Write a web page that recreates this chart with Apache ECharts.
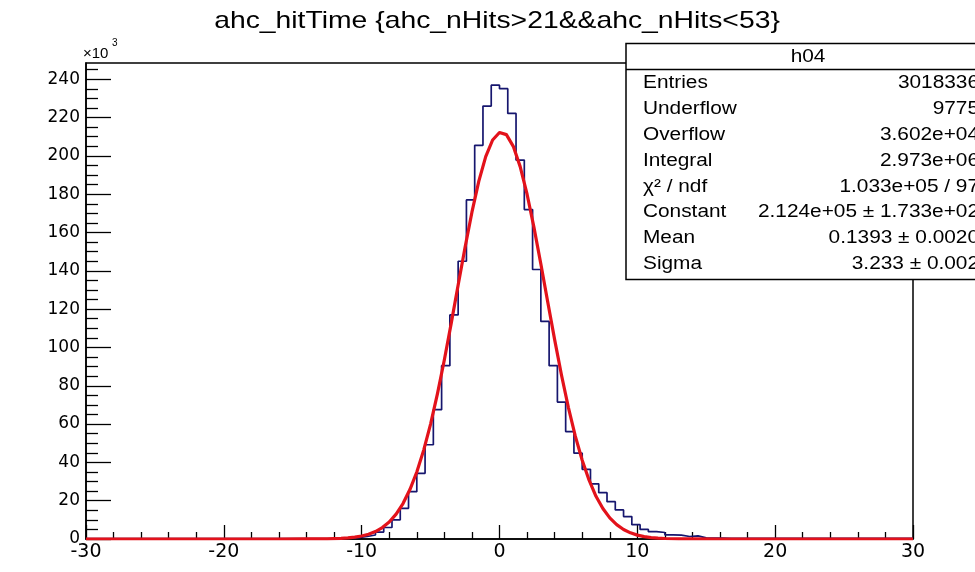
<!DOCTYPE html>
<html>
<head>
<meta charset="utf-8">
<script src="https://cdn.jsdelivr.net/npm/echarts@6.0.0/dist/echarts.min.js"></script>
<style>
html,body{margin:0;padding:0;background:#fff;}
#chart{width:975px;height:572px;}
</style>
</head>
<body>
<div id="chart"></div>
<script>
// ---------- data ----------
const titleText = 'ahc_hitTime {ahc_nHits>21&&ahc_nHits<53}';
const histMin = -30;
const histMax = 30;
const binWidth = 0.6;
// bin contents in units of 10^3, 100 bins from -30 to 30
const histCounts = [
  0.15,0.15,0.15,0.15,0.15,0.15,0.15,0.15,0.15,0.15,
  0.15,0.15,0.15,0.15,0.15,0.15,0.15,0.15,0.15,0.15,
  0.15,0.15,0.16,0.16,0.17,0.17,0.18,0.18,0.19,0.2,
  0.3,0.45,0.75,1.3,2.1,3.6,6.0,10.0,16.0,24.7,
  34.3,49.2,67.5,90.5,117,145,177,205.5,226,236.9,
  235.1,222.2,197.8,172,140.7,113.6,90.5,71.5,56.1,44.8,
  36.4,28.8,24.2,19.5,15.2,11.7,7.5,5.0,3.8,3.4,
  2.2,2.0,1.3,1.6,0.6,0.5,0.45,0.4,0.4,0.35,
  0.35,0.3,0.3,0.3,0.3,0.3,0.3,0.3,0.3,0.3,
  0.3,0.3,0.3,0.3,0.3,0.3,0.3,0.3,0.3,0.3
];
// red fit curve (units of 10^3)
const fitX = [-30,-16,-14,-13,-12.5,-12,-11.5,-11,-10.5,-10,-9.5,-9,-8.5,-8,-7.5,-7,-6.5,-6,-5.5,-5,-4.5,-4,-3.5,-3,-2.5,-2,-1.5,-1,-0.5,0,0.5,1,1.5,2,2.5,3,3.5,4,4.5,5,5.5,6,6.5,7,7.5,8,8.5,9,9.5,10,10.5,11,11.5,12,12.5,13,14,16,30];
const fitY = [0,0,0.015,0.055,0.1,0.18,0.33,0.56,0.95,1.55,2.5,3.9,6.0,8.9,13.0,18.5,25.8,35.0,46.4,60.0,75.9,93.6,112.7,132.6,152.2,170.6,186.8,199.6,208.3,212.2,211.1,205.0,194.4,180.0,162.7,143.6,123.7,104.1,85.5,68.6,53.7,41.1,30.7,22.3,15.9,11.05,7.5,4.96,3.21,2.03,1.25,0.75,0.44,0.25,0.14,0.08,0.02,0,0];
const yTickValues = [0,20,40,60,80,100,120,140,160,180,200,220,240];
const statTitle = 'h04';
const statLabels = ['Entries','Underflow','Overflow','Integral','\u03c7\u00b2 / ndf','Constant','Mean','Sigma'];
const statValues = ['3018336','9775','3.602e+04','2.973e+06','1.033e+05 / 97','2.124e+05 \u00b1 1.733e+02','0.1393 \u00b1 0.0020','3.233 \u00b1 0.002'];

// ---------- build ----------
const histData = histCounts.map((v, i) => [histMin + i * binWidth, v]);
histData.push([histMax, histCounts[histCounts.length - 1]]);
const fitData = fitX.map((x, i) => [x, fitY[i]]);

const SF = 'Liberation Sans, Arial, Helvetica, sans-serif';
const statFont = '17.5px ' + SF;
const stretch = 1.19;

const graphics = [];
graphics.push({
  type: 'text', x: 497, y: 21, scaleX: 1.18, z: 100,
  style: { text: titleText, font: '24px ' + SF, fill: '#000', align: 'center', verticalAlign: 'middle', textAlign: 'center', textVerticalAlign: 'middle' }
});
graphics.push({
  type: 'text', x: 83, y: 54, z: 100,
  style: { text: '\u00d710', font: '15px ' + SF, fill: '#000', align: 'left', verticalAlign: 'middle', textAlign: 'left', textVerticalAlign: 'middle' }
});
graphics.push({
  type: 'text', x: 112, y: 43, z: 100,
  style: { text: '3', font: '10px ' + SF, fill: '#000', align: 'left', verticalAlign: 'middle', textAlign: 'left', textVerticalAlign: 'middle' }
});
// stats box
graphics.push({
  type: 'rect', z: 100,
  shape: { x: 626, y: 43.5, width: 380, height: 236 },
  style: { fill: '#fff', stroke: '#000', lineWidth: 1.5 }
});
graphics.push({
  type: 'line', z: 101,
  shape: { x1: 626, y1: 69.5, x2: 1006, y2: 69.5 },
  style: { stroke: '#000', lineWidth: 1.5 }
});
graphics.push({
  type: 'text', x: 808, y: 57, scaleX: stretch, z: 102,
  style: { text: statTitle, font: statFont, fill: '#000', align: 'center', verticalAlign: 'middle', textAlign: 'center', textVerticalAlign: 'middle' }
});
statLabels.forEach((lab, k) => {
  const yy = 83.5 + 25.8 * k;
  graphics.push({
    type: 'text', x: 643, y: yy, scaleX: stretch, z: 102,
    style: { text: lab, font: statFont, fill: '#000', align: 'left', verticalAlign: 'middle', textAlign: 'left', textVerticalAlign: 'middle' }
  });
  graphics.push({
    type: 'text', x: 979, y: yy, scaleX: stretch, z: 102,
    style: { text: statValues[k], font: statFont, fill: '#000', align: 'right', verticalAlign: 'middle', textAlign: 'right', textVerticalAlign: 'middle' }
  });
});

const chart = echarts.init(document.getElementById('chart'), null, { renderer: 'canvas' });
chart.setOption({
  animation: false,
  backgroundColor: '#fff',
  grid: { left: 86, right: 62, top: 63, bottom: 33, show: true, borderColor: '#000', borderWidth: 1.5, backgroundColor: 'transparent' },
  xAxis: {
    type: 'value', min: histMin, max: histMax, interval: 10,
    axisLine: { show: true, onZero: false, lineStyle: { color: '#000', width: 1.5 } },
    axisTick: { show: true, inside: true, length: 14, lineStyle: { color: '#000', width: 1.3 } },
    minorTick: { show: true, splitNumber: 5, length: 7, lineStyle: { color: '#000', width: 1.3 } },
    axisLabel: { fontSize: 19, color: '#000', margin: 4, fontFamily: 'DejaVu Sans' },
    splitLine: { show: false }
  },
  yAxis: {
    type: 'value', min: 0, max: 248.5, interval: 20,
    axisLine: { show: true, onZero: false, lineStyle: { color: '#000', width: 1.5 } },
    axisTick: { show: true, inside: true, length: 25, customValues: yTickValues, lineStyle: { color: '#000', width: 1.3 } },
    minorTick: { show: true, splitNumber: 4, length: 12, lineStyle: { color: '#000', width: 1.3 } },
    axisLabel: { fontSize: 17, color: '#000', margin: 6, fontFamily: 'DejaVu Sans', customValues: yTickValues },
    splitLine: { show: false }
  },
  series: [
    {
      type: 'line', data: histData, step: 'end', showSymbol: false, silent: true,
      lineStyle: { color: '#16166e', width: 1.7 }, z: 2
    },
    {
      type: 'line', data: fitData, smooth: false, showSymbol: false, silent: true,
      lineStyle: { color: '#e3121b', width: 3.2, join: 'round' }, z: 3
    }
  ],
  graphic: graphics
});
</script>
</body>
</html>
